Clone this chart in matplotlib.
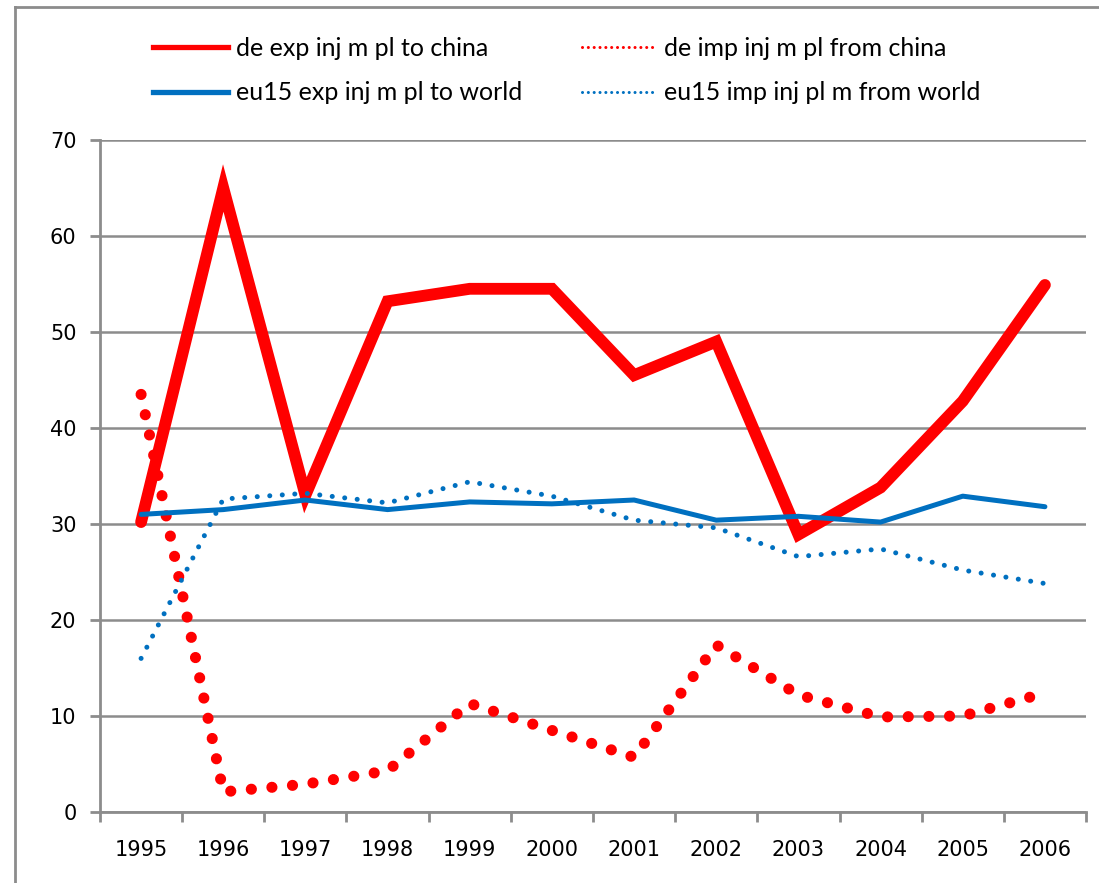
import numpy as np
import matplotlib
matplotlib.use('Agg')
import matplotlib.pyplot as plt
from matplotlib.lines import Line2D

# 数据
years = ['1995', '1996', '1997', '1998', '1999', '2000',
         '2001', '2002', '2003', '2004', '2005', '2006']
de_exp = [30.2, 65.0, 33.0, 53.2, 54.5, 54.5, 45.5, 49.0, 28.9, 33.8, 42.8, 54.9]
de_imp = [43.5, 2.1, 2.9, 4.3, 11.3, 8.5, 5.7, 17.4, 12.2, 9.9, 10.0, 12.4]
eu_exp = [31.0, 31.5, 32.5, 31.5, 32.3, 32.1, 32.5, 30.4, 30.8, 30.2, 32.9, 31.8]
eu_imp = [16.0, 32.6, 33.2, 32.2, 34.4, 32.9, 30.4, 29.6, 26.6, 27.4, 25.2, 23.8]

labels = ['de exp inj m pl to china', 'de imp inj m pl from china',
          'eu15 exp inj m pl to world', 'eu15 imp inj pl m from world']

red = '#FF0000'
blue = '#0070C0'
grey = '#8C8C8C'

fig = plt.figure(figsize=(10.99, 8.83), dpi=100)
ax = fig.add_axes([100 / 1099, 71 / 883, 986 / 1099, 672 / 883])

x = np.arange(len(years))
ax.plot(x, de_exp, color=red, lw=8.5, solid_joinstyle='miter', solid_capstyle='round', zorder=3)
ax.plot(x, de_imp, color=red, lw=8, linestyle=(0, (0.01, 1.85)), dash_capstyle='round', zorder=4)
ax.plot(x, eu_exp, color=blue, lw=3.6, solid_capstyle='round', zorder=5)
ax.plot(x, eu_imp, color=blue, lw=3.6, linestyle=(0, (0.01, 2.5)), dash_capstyle='round', zorder=5)

# 坐标轴
ax.set_xlim(-0.5, len(years) - 0.5)
ax.set_ylim(0, 70)
ax.set_yticks(range(0, 71, 10))
ax.set_xticks(np.arange(-0.5, len(years), 1.0))
ax.set_xticklabels([])
ax.set_xticks(x, minor=True)
ax.set_xticklabels(years, minor=True)
ax.tick_params(axis='x', which='minor', length=0, pad=20, labelsize=15)
ax.tick_params(axis='x', which='major', length=7, width=2, color=grey, direction='out')
ax.tick_params(axis='y', length=7, width=2, color=grey, direction='out', pad=10, labelsize=15)
for lab in ax.get_xticklabels(minor=True) + ax.get_yticklabels():
    lab.set_family('DejaVu Sans')

ax.grid(axis='y', color=grey, lw=1.8)
ax.set_axisbelow(True)
for side in ['top', 'right']:
    ax.spines[side].set_visible(False)
for side in ['left', 'bottom']:
    ax.spines[side].set_color(grey)
    ax.spines[side].set_linewidth(2)

# 图例 (按列填充，所以顺序调整)
h_de_exp = Line2D([], [], color=red, lw=3.8)
h_de_imp = Line2D([], [], color=red, lw=2.2, linestyle=(0, (0.01, 1.9)), dash_capstyle='round')
h_eu_exp = Line2D([], [], color=blue, lw=3.8)
h_eu_imp = Line2D([], [], color=blue, lw=2.2, linestyle=(0, (0.01, 1.9)), dash_capstyle='round')
leg = fig.legend([h_de_exp, h_eu_exp, h_de_imp, h_eu_imp],
                 [labels[0], labels[2], labels[1], labels[3]],
                 loc='upper left', bbox_to_anchor=(143 / 1099, 1 - 27 / 883), ncol=2,
                 frameon=False, prop={'family': 'Lato', 'size': 18},
                 handlelength=3.0, handletextpad=0.3, columnspacing=2.4, labelspacing=0.85,
                 borderaxespad=0)

# 外框
fig.add_artist(Line2D([15 / 1099, 15 / 1099], [0, 1 - 7 / 883], transform=fig.transFigure, color=grey, lw=2))
fig.add_artist(Line2D([15 / 1099, 1.0], [1 - 7 / 883, 1 - 7 / 883], transform=fig.transFigure, color=grey, lw=2))

fig.savefig('out.png', dpi=100)
plt.close(fig)
